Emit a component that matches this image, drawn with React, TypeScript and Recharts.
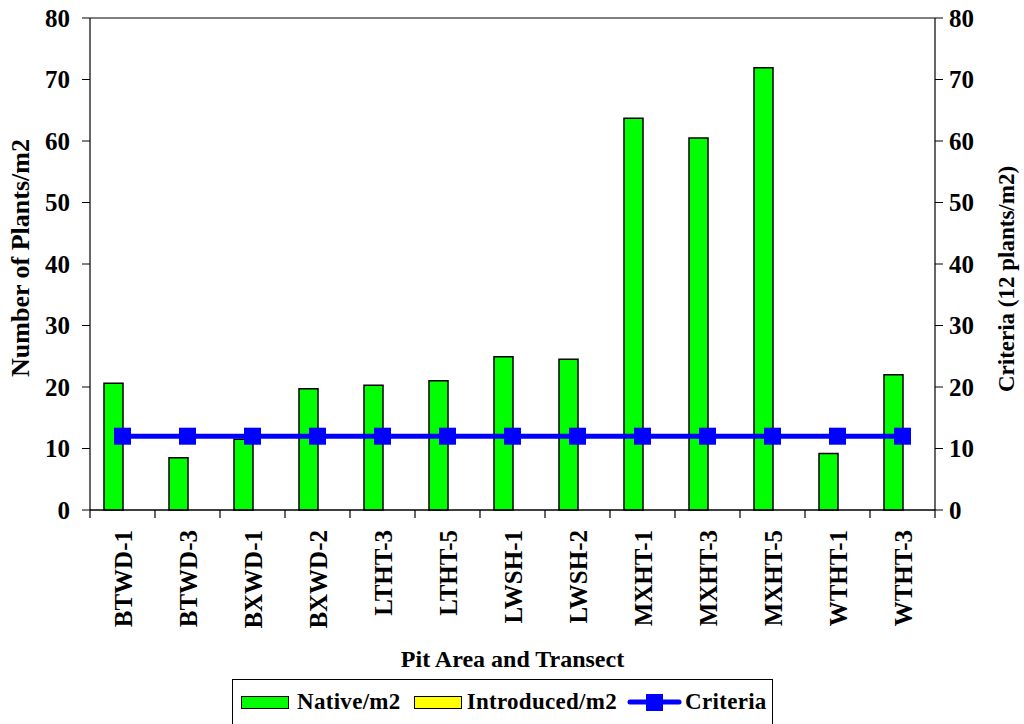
import React from 'react';
import {
  ComposedChart,
  Bar,
  Line,
  XAxis,
  YAxis,
  CartesianGrid,
  Legend,
  Label,
} from 'recharts';

const categories = [
  'BTWD-1', 'BTWD-3', 'BXWD-1', 'BXWD-2', 'LTHT-3', 'LTHT-5', 'LWSH-1',
  'LWSH-2', 'MXHT-1', 'MXHT-3', 'MXHT-5', 'WTHT-1', 'WTHT-3',
];
const nativeValues = [20.6, 8.5, 11.5, 19.7, 20.3, 21.0, 24.9, 24.5, 63.7, 60.5, 71.9, 9.2, 22.0];
const introducedValues = [0, 0, 0, 0, 0, 0, 0, 0, 0, 0, 0, 0, 0];
const criteriaValues = [12, 12, 12, 12, 12, 12, 12, 12, 12, 12, 12, 12, 12];
const yTicks = [0, 10, 20, 30, 40, 50, 60, 70, 80];

const data = categories.map((name, i) => ({
  name,
  native: nativeValues[i],
  introduced: introducedValues[i],
  criteria: criteriaValues[i],
}));

const FONT = '"Liberation Serif", "Times New Roman", serif';

const XTick = (props: any) => {
  const { x, y, payload, index } = props;
  const half = payload && payload.offset ? payload.offset : 32.5;
  return (
    <g>
      {index === 0 && <line x1={x - half} y1={y - 8} x2={x - half} y2={y} stroke="#000" strokeWidth={1.2} />}
      <line x1={x + half} y1={y - 8} x2={x + half} y2={y} stroke="#000" strokeWidth={1.2} />
      <text
        x={x}
        y={y + 12}
        transform={`rotate(-90, ${x}, ${y + 12})`}
        textAnchor="end"
        dy="0.36em"
        fontFamily={FONT}
        fontWeight="bold"
        fontSize={25}
        fill="#000"
      >
        {payload.value}
      </text>
    </g>
  );
};

const SquareDot = (props: any) => {
  const { cx, cy } = props;
  if (cx == null || cy == null) return null;
  return <rect x={cx - 8.5} y={cy - 8.5} width={17} height={17} fill="#0000FF" />;
};

const swatch = (color: string) => ({
  width: 48,
  height: 13,
  boxSizing: 'border-box' as const,
  background: color,
  border: '1.5px solid #000',
});

const LegendBox = () => (
  <div
    style={{
      border: '1px solid #000',
      borderBottom: 'none',
      height: 45,
      boxSizing: 'border-box',
      display: 'flex',
      alignItems: 'center',
      paddingLeft: 8,
      fontFamily: FONT,
      fontWeight: 'bold',
      fontSize: 23,
      letterSpacing: 0.3,
      color: '#000',
      whiteSpace: 'nowrap',
    }}
  >
    <span style={{ ...swatch('#00FF00'), marginRight: 8 }} />
    <span style={{ marginRight: 13 }}>Native/m2</span>
    <span style={{ ...swatch('#FFFF00'), marginRight: 5 }} />
    <span style={{ marginRight: 10 }}>Introduced/m2</span>
    <svg width={55} height={20} style={{ marginRight: 3 }}>
      <line x1={3} y1={10} x2={52} y2={10} stroke="#0000FF" strokeWidth={5} strokeLinecap="round" />
      <rect x={19} y={2} width={17} height={17} fill="#0000FF" />
    </svg>
    <span>Criteria</span>
  </div>
);

const titleStyle = { fontFamily: FONT, fontWeight: 'bold' as const, fill: '#000' };

export default function App() {
  return (
    <div style={{ position: 'absolute', left: 0, top: 0, background: '#fff' }}>
      <ComposedChart
        width={1024}
        height={724}
        data={data}
        margin={{ top: 18, right: 0, bottom: 9, left: 0 }}
        barGap={0}
        barSize={19}
      >
        <CartesianGrid vertical={false} stroke="#000" strokeWidth={1} />
        <XAxis
          dataKey="name"
          yAxisId="left"
          height={160}
          tickLine={false}
          axisLine={{ stroke: '#000', strokeWidth: 1.2 }}
          tick={<XTick />}
          interval={0}
        >
          <Label
            content={({ viewBox }: any) => (
              <text
                x={viewBox.x + viewBox.width / 2}
                y={viewBox.y + viewBox.height - 3}
                textAnchor="middle"
                fontSize={24}
                {...titleStyle}
              >
                Pit Area and Transect
              </text>
            )}
          />
        </XAxis>
        <YAxis
          yAxisId="left"
          width={90}
          domain={[0, 80]}
          ticks={yTicks}
          interval={0}
          tickSize={8}
          tickMargin={12}
          axisLine={{ stroke: '#000', strokeWidth: 1.2 }}
          tickLine={{ stroke: '#000' }}
          tick={{ fontFamily: FONT, fontWeight: 'bold', fontSize: 25, fill: '#000' }}
        >
          <Label
            content={({ viewBox }: any) => {
              const cx = viewBox.x + 20;
              const cy = viewBox.y + viewBox.height / 2 - 6;
              return (
                <text
                  x={cx}
                  y={cy}
                  transform={`rotate(-90, ${cx}, ${cy})`}
                  textAnchor="middle"
                  dy="0.36em"
                  fontSize={26}
                  {...titleStyle}
                >
                  Number of Plants/m2
                </text>
              );
            }}
          />
        </YAxis>
        <YAxis
          yAxisId="right"
          orientation="right"
          width={89}
          domain={[0, 80]}
          ticks={yTicks}
          interval={0}
          tickSize={8}
          tickMargin={6}
          axisLine={{ stroke: '#000', strokeWidth: 1.2 }}
          tickLine={{ stroke: '#000' }}
          tick={{ fontFamily: FONT, fontWeight: 'bold', fontSize: 25, fill: '#000' }}
        >
          <Label
            content={({ viewBox }: any) => {
              const cx = viewBox.x + viewBox.width - 18;
              const cy = viewBox.y + viewBox.height / 2 + 15;
              return (
                <text
                  x={cx}
                  y={cy}
                  transform={`rotate(-90, ${cx}, ${cy})`}
                  textAnchor="middle"
                  dy="0.36em"
                  fontSize={23}
                  {...titleStyle}
                >
                  Criteria (12 plants/m2)
                </text>
              );
            }}
          />
        </YAxis>
        <Bar
          yAxisId="left"
          dataKey="native"
          name="Native/m2"
          fill="#00FF00"
          stroke="#000"
          strokeWidth={1.5}
          isAnimationActive={false}
        />
        <Bar
          yAxisId="left"
          dataKey="introduced"
          name="Introduced/m2"
          fill="#FFFF00"
          stroke="#000"
          strokeWidth={1.5}
          isAnimationActive={false}
        />
        <Line
          yAxisId="right"
          dataKey="criteria"
          name="Criteria"
          stroke="#0000FF"
          strokeWidth={5}
          dot={<SquareDot />}
          activeDot={false}
          isAnimationActive={false}
        />
        <Legend
          content={<LegendBox />}
          wrapperStyle={{ position: 'absolute', left: 232, top: 679, width: 541, height: 45 }}
        />
      </ComposedChart>
    </div>
  );
}
